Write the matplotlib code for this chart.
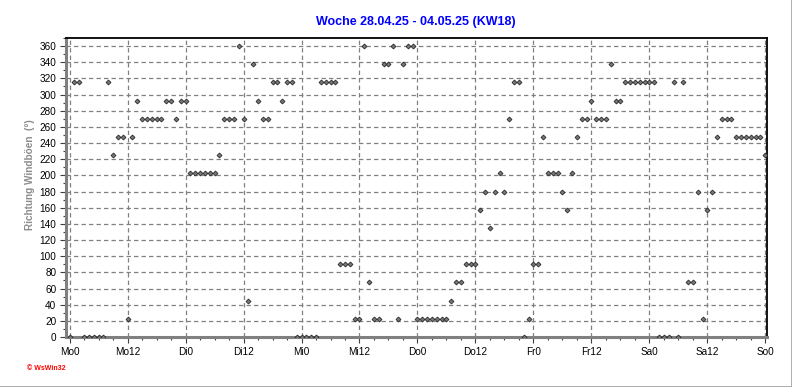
import matplotlib
matplotlib.use("Agg")
import matplotlib.pyplot as plt
from matplotlib.ticker import MultipleLocator, FixedLocator

plt.rcParams['font.family'] = ['Liberation Sans', 'DejaVu Sans']

# Hourly wind-gust direction, Mo 0h .. So 0h (hour index 0..144)
hours = list(range(145))
direction = [
    0, 315, 315, 0, 0, 0, 0, 0, 315, 225, 247.5, 247.5,            # 0-11
    22.5, 247.5, 292.5, 270, 270, 270, 270, 270, 292.5, 292.5, 270, 292.5,  # 12-23
    292.5, 202.5, 202.5, 202.5, 202.5, 202.5, 202.5, 225, 270, 270, 270, 360,  # 24-35
    270, 45, 337.5, 292.5, 270, 270, 315, 315, 292.5, 315, 315, 0,  # 36-47
    0, 0, 0, 0, 315, 315, 315, 315, 90, 90, 90, 22.5,               # 48-59
    22.5, 360, 67.5, 22.5, 22.5, 337.5, 337.5, 360, 22.5, 337.5, 360, 360,  # 60-71
    22.5, 22.5, 22.5, 22.5, 22.5, 22.5, 22.5, 45, 67.5, 67.5, 90, 90,  # 72-83
    90, 157.5, 180, 135, 180, 202.5, 180, 270, 315, 315, 0, 22.5,   # 84-95
    90, 90, 247.5, 202.5, 202.5, 202.5, 180, 157.5, 202.5, 247.5, 270, 270,  # 96-107
    292.5, 270, 270, 270, 337.5, 292.5, 292.5, 315, 315, 315, 315, 315,  # 108-119
    315, 315, 0, 0, 0, 315, 0, 315, 67.5, 67.5, 180, 22.5,         # 120-131
    157.5, 180, 247.5, 270, 270, 270, 247.5, 247.5, 247.5, 247.5, 247.5, 247.5,  # 132-143
    225,                                                            # 144
]

tick_positions = [0, 12, 24, 36, 48, 60, 72, 84, 96, 108, 120, 132, 144]
tick_labels = ["Mo0", "Mo12", "Di0", "Di12", "Mi0", "Mi12", "Do0", "Do12",
               "Fr0", "Fr12", "Sa0", "Sa12", "So0"]
y_ticks = list(range(0, 361, 20))

title = "Woche 28.04.25 - 04.05.25 (KW18)"
ylabel = "Richtung Windböen  (°)"

fig = plt.figure(figsize=(7.92, 3.87), dpi=100)
ax = fig.add_axes([66/792, 1-337/387, (767-66)/792, (337-38)/387])

ax.plot(hours, direction, linestyle='none', marker='D', markersize=2.5,
        markerfacecolor='#787878', markeredgecolor='#282828', markeredgewidth=0.6,
        zorder=3)

ax.set_xlim(-0.75, 144.35)
ax.set_ylim(0, 370)

ax.xaxis.set_major_locator(FixedLocator(tick_positions))
ax.set_xticklabels(tick_labels)
ax.xaxis.set_minor_locator(MultipleLocator(3))
ax.yaxis.set_major_locator(FixedLocator(y_ticks))
ax.yaxis.set_minor_locator(MultipleLocator(10))

ax.grid(True, which='major', color='#808080', linestyle=(0, (3.5, 2.5)), linewidth=0.9)
ax.set_axisbelow(True)

for s in ['left', 'bottom']:
    ax.spines[s].set_color('#808080')
    ax.spines[s].set_linewidth(2.2)
for s in ['top', 'right']:
    ax.spines[s].set_color('black')
    ax.spines[s].set_linewidth(1.3)

ax.tick_params(axis='both', which='major', length=4, width=0.8, color='#404040',
               labelsize=7.2, labelcolor='black', pad=3)
ax.tick_params(axis='both', which='minor', length=2.5, width=0.8, color='#404040')

fig.text(416/792, 1-22/387, title, color='#0000ff', fontsize=9, fontweight='bold',
         ha='center', va='center')
fig.text(30/792, 1-175/387, ylabel, color='#8c8c8c', fontsize=7.2, fontweight='bold',
         rotation=90, ha='center', va='center')
fig.text(27/792, 1-369/387, "© WsWin32", color='#ff0000', fontsize=5,
         fontweight='bold', ha='left', va='center')

# window frame lines (right and bottom)
fig.add_artist(plt.Line2D([0, 1], [0.5/387, 0.5/387], transform=fig.transFigure,
                          color='#a0a0a0', linewidth=1.2))
fig.add_artist(plt.Line2D([1-0.5/792, 1-0.5/792], [0, 1], transform=fig.transFigure,
                          color='#a0a0a0', linewidth=1.2))

fig.savefig("out.png", dpi=100)
